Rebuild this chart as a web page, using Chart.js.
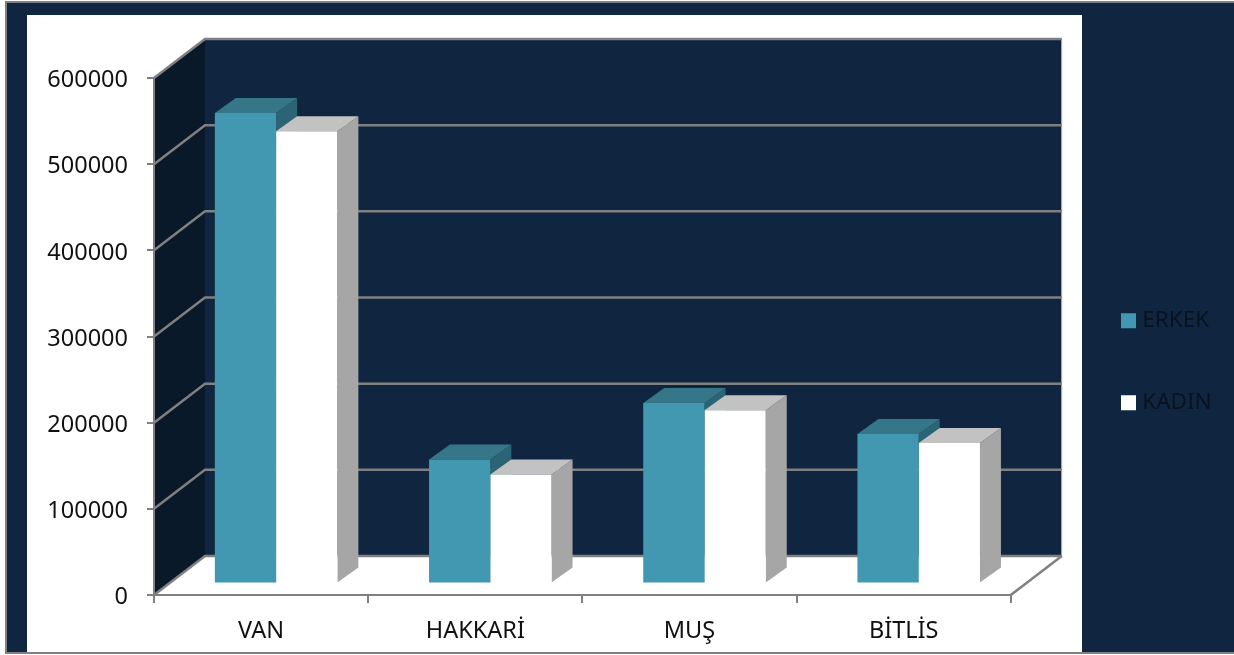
<!DOCTYPE html>
<html>
<head>
<meta charset="utf-8">
<script src="https://cdn.jsdelivr.net/npm/chart.js@4"></script>
<style>
html,body{margin:0;padding:0;background:#fff;overflow:hidden}
canvas{display:block}
</style>
</head>
<body>
<canvas id="c" width="1234" height="655"></canvas>
<script>
const categories = ["VAN", "HAKKARİ", "MUŞ", "BİTLİS"];
const erkekValues = [546000, 144000, 209500, 173500];
const kadinValues = [525000, 126500, 201000, 163000];
const seriesNames = ["ERKEK", "KADIN"];

const NAVY = "#102640", SIDE_WALL = "#0a1929", GRID = "#808080";
const WALL_DX = 51, WALL_DY = -39;       // box depth
const BAR_OFF_X = 15, BAR_OFF_Y = -11.5; // bars stand in the middle of the floor
const BAR_DX = 21, BAR_DY = -15;         // bar depth
const faceColors = [
  { top: "#357689", side: "#2b6474" },
  { top: "#c2c2c2", side: "#a6a6a6" }
];

function poly(ctx, pts, fill) {
  ctx.beginPath();
  pts.forEach((p, i) => i ? ctx.lineTo(p[0], p[1]) : ctx.moveTo(p[0], p[1]));
  ctx.closePath();
  ctx.fillStyle = fill;
  ctx.fill();
}
function line(ctx, pts, color, w) {
  ctx.beginPath();
  pts.forEach((p, i) => i ? ctx.lineTo(p[0], p[1]) : ctx.moveTo(p[0], p[1]));
  ctx.strokeStyle = color;
  ctx.lineWidth = w;
  ctx.stroke();
}

const box3d = {
  id: "box3d",
  afterLayout(chart) {
    const lg = chart.legend, pad = lg.options.labels.padding;
    const w = lg.width, h = lg.height;
    lg.left = 1126 - pad;
    lg.right = lg.left + w;
    lg.top = 309.5 - pad;
    lg.bottom = lg.top + h;
  },
  beforeDraw(chart) {
    const ctx = chart.ctx, x = chart.scales.x, y = chart.scales.y;
    ctx.save();
    // page frame and white chart panel
    ctx.fillStyle = "#ffffff"; ctx.fillRect(0, 0, 1234, 655);
    ctx.fillStyle = NAVY; ctx.fillRect(6, 2, 1228, 651);
    ctx.fillStyle = "#808080";
    ctx.fillRect(5, 1, 1229, 2); ctx.fillRect(5, 1, 2, 653); ctx.fillRect(5, 652, 1229, 2);
    ctx.fillStyle = "#ffffff"; ctx.fillRect(27, 15, 1055, 637);
    const L = x.left, R = x.right, T = y.getPixelForValue(600000), B = y.getPixelForValue(0);
    // back wall, side wall, floor
    poly(ctx, [[L + WALL_DX, T + WALL_DY], [R + WALL_DX, T + WALL_DY], [R + WALL_DX, B + WALL_DY], [L + WALL_DX, B + WALL_DY]], NAVY);
    poly(ctx, [[L, T], [L + WALL_DX, T + WALL_DY], [L + WALL_DX, B + WALL_DY], [L, B]], SIDE_WALL);
    line(ctx, [[R + WALL_DX, T + WALL_DY], [R + WALL_DX, B + WALL_DY]], "#c8ccd2", 1);
    // grid lines on side wall and back wall
    y.ticks.forEach(t => {
      const py = y.getPixelForValue(t.value);
      line(ctx, [[L, py], [L + WALL_DX, py + WALL_DY], [R + WALL_DX, py + WALL_DY]], GRID, 2.5);
    });
    line(ctx, [[R, B], [R + WALL_DX, B + WALL_DY]], GRID, 2.5);
    ctx.restore();
  },
  beforeDatasetsDraw(chart) {
    const ctx = chart.ctx;
    ctx.save();
    ctx.translate(BAR_OFF_X, BAR_OFF_Y);
    chart.data.datasets.forEach((ds, i) => {
      chart.getDatasetMeta(i).data.forEach(b => {
        const l = b.x - b.width / 2, r = b.x + b.width / 2, t = b.y, bt = b.base;
        poly(ctx, [[r, t], [r + BAR_DX, t + BAR_DY], [r + BAR_DX, bt + BAR_DY], [r, bt]], faceColors[i].side);
        poly(ctx, [[l, t], [l + BAR_DX, t + BAR_DY], [r + BAR_DX, t + BAR_DY], [r, t]], faceColors[i].top);
      });
    });
    ctx.restore();
    ctx.save();
    ctx.translate(BAR_OFF_X, BAR_OFF_Y);
  },
  afterDatasetsDraw(chart) {
    chart.ctx.restore();
  }
};

new Chart(document.getElementById("c"), {
  type: "bar",
  data: {
    labels: categories,
    datasets: [
      { label: seriesNames[0], data: erkekValues, backgroundColor: "#4398b1", borderWidth: 0 },
      { label: seriesNames[1], data: kadinValues, backgroundColor: "#ffffff", borderWidth: 0 }
    ]
  },
  options: {
    responsive: false,
    animation: false,
    events: [],
    layout: { padding: { left: 30, top: 78, right: 68, bottom: 0 } },
    categoryPercentage: 0.572,
    barPercentage: 1,
    scales: {
      x: {
        grid: { display: true, drawOnChartArea: false, drawTicks: true, tickLength: 8, color: GRID, lineWidth: 2, offset: true },
        border: { display: true, color: GRID, width: 2 },
        ticks: { color: "#111111", font: { family: "Noto Sans", size: 23.5 }, padding: 14, maxRotation: 0 },
        afterFit(s) { s.height = 60; }
      },
      y: {
        min: 0, max: 600000,
        grid: { display: true, drawOnChartArea: false, drawTicks: true, tickLength: 7, color: GRID, lineWidth: 2 },
        border: { display: true, color: GRID, width: 2 },
        ticks: { stepSize: 100000, color: "#111111", font: { family: "Noto Sans", size: 23.5 }, padding: 19, labelOffset: 2.5, callback: v => String(v) },
        afterFit(s) { s.width = 124; }
      }
    },
    plugins: {
      title: { display: false },
      tooltip: { enabled: false },
      legend: {
        position: "right",
        align: "start",
        labels: {
          boxWidth: 5, boxHeight: 5, padding: 59.5,
          color: "#08131f",
          font: { family: "Noto Sans", size: 22.5 },
          generateLabels(chart) {
            return Chart.defaults.plugins.legend.labels.generateLabels(chart).map(item => ({
              ...item, strokeStyle: item.fillStyle, lineWidth: 10
            }));
          }
        }
      }
    }
  },
  plugins: [box3d]
});
</script>
</body>
</html>
